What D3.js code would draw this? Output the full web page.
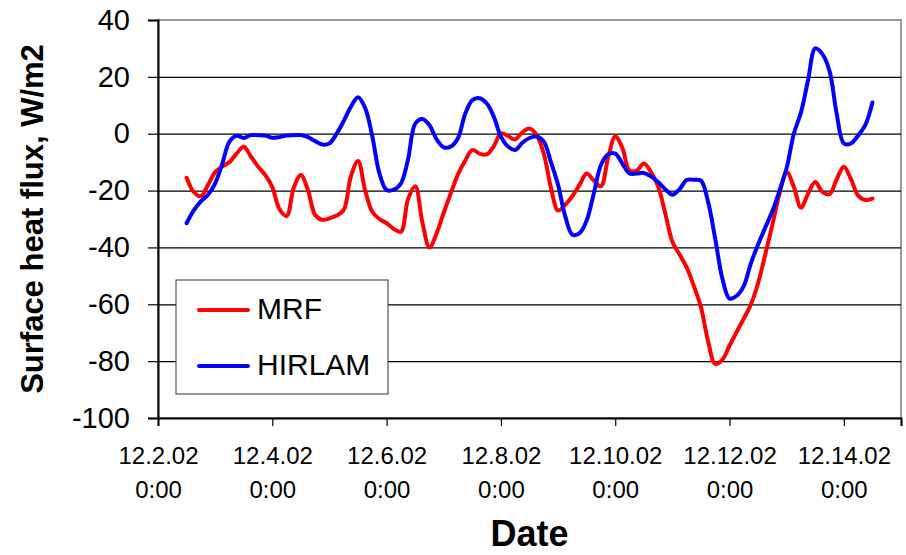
<!DOCTYPE html>
<html>
<head>
<meta charset="UTF-8">
<title>Surface heat flux</title>
<script src="https://cdn.jsdelivr.net/npm/d3@7"></script>
<style>
  body { margin: 0; background: #fff; }
  text { font-family: "Liberation Sans", Arial, sans-serif; fill: #000; }
</style>
</head>
<body>
<div id="chart"></div>
<script>
// 3-hourly values, starting 12.2.02 12:00
var startTime = Date.UTC(2002, 11, 2, 12);
var stepHours = 3;

var mrf = [
  -15.5, -20.5, -22, -18, -13.5, -11.5, -10, -7, -4.6, -8,
  -11.5, -14.5, -18.8, -26.5, -29, -19, -14.5, -20, -28.6, -30.3,
  -29.8, -28.8, -26.8, -15, -9.6, -20, -27.5, -30, -31.5, -33.5,
  -34.5, -23, -18.5, -31, -40, -35, -27.7, -20.8, -14.2, -9.5,
  -5.7, -7, -7.3, -4.4, 0.1, -0.8, -2, 0.5, 1.8, -0.5,
  -7, -19, -27, -25, -22, -18, -14, -16.5, -18.5, -8.5,
  -1, -5, -13, -13, -10.5, -13.5, -18.5, -28, -38, -42.5,
  -47, -53.5, -61, -73, -81, -79.5, -74.5, -69.7, -65, -60,
  -52.5, -42.5, -32, -21, -13.5, -18.7, -26, -21, -17, -20.5,
  -21.3, -16, -11.6, -16, -21.8, -23.3, -22.8
];

var hirlam = [
  -31.5, -27, -23.8, -21.5, -17.5, -10.5, -2.8, -0.7, -1.5, -0.5,
  -0.5, -0.6, -1.4, -1.2, -0.6, -0.5, -0.5, -1.2, -2.6, -3.8,
  -3.4, 0, 4.5, 9.5, 12.8, 9, -1, -14, -19.8, -19.7,
  -17.5, -9, 3.5, 5.2, 3, -2, -4.8, -4.5, -1.5, 7,
  11.8, 12.5, 10.7, 6, -1, -4.5, -5.7, -3.2, -1.5, -1,
  -2.8, -10, -18, -29, -35.5, -35, -30.5, -21, -11, -7.3,
  -7, -10.5, -14, -14, -13.8, -15, -17, -19.5, -21.5, -19.5,
  -16.3, -16.2, -16.5, -24, -37, -51, -58, -57, -53.5, -45.5,
  -39, -33, -27.2, -20, -12, 0, 7.5, 19, 30, 28,
  22, 7, -3.4, -3.4, -0.6, 3, 11
];

var seriesNames = ["MRF", "HIRLAM"];
var seriesColors = ["#ff0000", "#0000ff"];

var yTicks = [40, 20, 0, -20, -40, -60, -80, -100];
var xTickDates = [2, 4, 6, 8, 10, 12, 14].map(function(d){ return new Date(Date.UTC(2002, 11, d)); });
var xTickLabels = ["12.2.02", "12.4.02", "12.6.02", "12.8.02", "12.10.02", "12.12.02", "12.14.02"];

var W = 906, H = 555;
var plotL = 158, plotR = 901, plotT = 20, plotB = 418;

var svg = d3.select("#chart").append("svg")
  .attr("width", W).attr("height", H);

var x = d3.scaleUtc()
  .domain([new Date(Date.UTC(2002, 11, 2)), new Date(Date.UTC(2002, 11, 15))])
  .range([plotL, plotR]);
var y = d3.scaleLinear().domain([-100, 40]).range([plotB, plotT]);

function timeAt(i) { return new Date(startTime + i * stepHours * 3600 * 1000); }

// plot area frame (grey, Excel style)
svg.append("rect")
  .attr("x", plotL).attr("y", plotT)
  .attr("width", plotR - plotL).attr("height", plotB - plotT)
  .attr("fill", "#fff").attr("stroke", "#999").attr("stroke-width", 2);

// horizontal gridlines
svg.append("g")
  .attr("transform", "translate(" + plotL + ",0)")
  .call(d3.axisLeft(y).tickValues(yTicks.filter(function(v){ return v < 40 && v > -100; }))
    .tickSize(-(plotR - plotL)).tickFormat(""))
  .call(function(g){ g.select(".domain").remove(); })
  .selectAll("line").attr("stroke", "#000").attr("stroke-width", 1.2);

// y axis (plain hyphen minus like the original)
var yAxis = svg.append("g")
  .attr("transform", "translate(" + plotL + ",0)")
  .call(d3.axisLeft(y).tickValues(yTicks).tickSize(10).tickPadding(18)
    .tickFormat(function(d){ return String(d); }));
yAxis.select(".domain").attr("stroke", "#000").attr("stroke-width", 2);
yAxis.selectAll("line").attr("stroke", "#000").attr("stroke-width", 1.2);
yAxis.selectAll("text")
  .style("font-family", "'Liberation Sans', Arial, sans-serif")
  .style("font-size", "29px");

// x axis, two-line labels
var xAxis = svg.append("g")
  .attr("transform", "translate(0," + plotB + ")")
  .call(d3.axisBottom(x).tickValues(xTickDates).tickSize(8)
    .tickFormat(function(d, i){ return xTickLabels[i]; }));
xAxis.select(".domain").attr("stroke", "#000").attr("stroke-width", 2);
xAxis.selectAll("line").attr("stroke", "#000").attr("stroke-width", 1.2);
xAxis.selectAll("text").each(function(d, i){
  var t = d3.select(this).text("").attr("y", 0).attr("dy", null)
    .style("font-family", "'Liberation Sans', Arial, sans-serif")
    .style("font-size", "24px");
  t.append("tspan").attr("x", 0).attr("y", 46).text(xTickLabels[i]);
  t.append("tspan").attr("x", 0).attr("y", 80).text("0:00");
});

// lines
var line = d3.line()
  .x(function(d, i){ return x(timeAt(i)); })
  .y(function(d){ return y(d); })
  .curve(d3.curveCatmullRom.alpha(0.5));

[mrf, hirlam].forEach(function(s, k){
  svg.append("path")
    .datum(s)
    .attr("d", line)
    .attr("fill", "none")
    .attr("stroke", seriesColors[k])
    .attr("stroke-width", 4)
    .attr("stroke-linejoin", "round")
    .attr("stroke-linecap", "round");
});

// legend
var lg = svg.append("g");
lg.append("rect")
  .attr("x", 176).attr("y", 280).attr("width", 212).attr("height", 114)
  .attr("fill", "#fff").attr("stroke", "#333").attr("stroke-width", 1);
seriesNames.forEach(function(n, k){
  var cy = 310 + k * 56;
  lg.append("line")
    .attr("x1", 199).attr("x2", 248).attr("y1", cy).attr("y2", cy)
    .attr("stroke", seriesColors[k]).attr("stroke-width", 4)
    .attr("stroke-linecap", "round");
  lg.append("text")
    .attr("x", 257).attr("y", cy + 9)
    .style("font-size", "30px")
    .text(n);
});

// axis titles
svg.append("text")
  .attr("transform", "translate(43,219) rotate(-90)")
  .attr("text-anchor", "middle")
  .style("font-size", "31px").style("font-weight", "bold")
  .text("Surface heat flux, W/m2");

svg.append("text")
  .attr("x", (plotL + plotR) / 2).attr("y", 546)
  .attr("text-anchor", "middle")
  .style("font-size", "36px").style("font-weight", "bold")
  .text("Date");
</script>
</body>
</html>
